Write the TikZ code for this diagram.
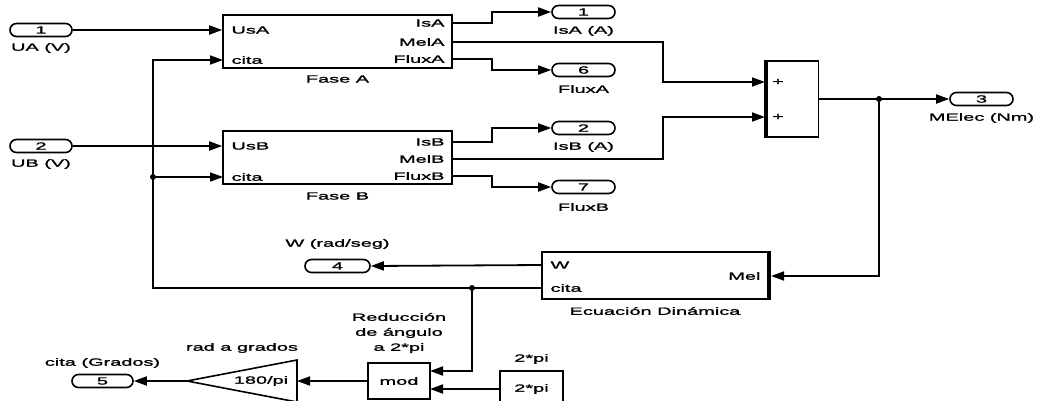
\documentclass[tikz,border=0pt]{standalone}
\usepackage{fontspec}
\setmainfont{Liberation Sans}[FakeStretch=1.9,FakeBold=1.6]
\usetikzlibrary{arrows.meta}

\begin{document}
\begin{tikzpicture}[x=1pt,y=-1pt,
  font=\fontsize{10.5}{15}\selectfont,
  blk/.style={draw,line width=1.6pt,inner sep=0pt},
  port/.style={draw,line width=1.6pt,rounded corners=6.5pt,
    minimum width=62pt,minimum height=13pt,inner sep=0pt},
  sig/.style={line width=1.8pt,-{Triangle[length=13pt,width=9pt]}},
  dot/.style={circle,fill,inner sep=0pt,minimum size=6pt}]
  \useasboundingbox (0,0) rectangle (1039,400);
  \clip (0,0) rectangle (1039,400);
  % inports
  \node[port] (in1) at (41,30) {1};
  \node (lin1) at (41,48) {UA (V)};
  \node[port] (in2) at (41,146) {2};
  \node (lin2) at (41,164) {UB (V)};
  % phase blocks
  \node[blk,minimum width=229pt,minimum height=53pt] (faseA) at (337.5,41.5) {};
  \node (lfaseA) at (337.5,79) {Fase A};
  \node[anchor=west] (pA1) at (228,30) {UsA};
  \node[anchor=west] (pA2) at (228,60) {cita};
  \node[anchor=east] (pA3) at (448,23) {IsA};
  \node[anchor=east] (pA4) at (448,42) {MelA};
  \node[anchor=east] (pA5) at (448,59) {FluxA};
  \node[blk,minimum width=229pt,minimum height=53pt] (faseB) at (337.5,157.5) {};
  \node (lfaseB) at (337.5,196) {Fase B};
  \node[anchor=west] (pB1) at (228,146) {UsB};
  \node[anchor=west] (pB2) at (228,177) {cita};
  \node[anchor=east] (pB3) at (448,142) {IsB};
  \node[anchor=east] (pB4) at (448,159) {MelB};
  \node[anchor=east] (pB5) at (448,176) {FluxB};
  \coordinate (faseA-cita) at (223,60);
  \coordinate (faseB-cita) at (223,177);
  \coordinate (faseA-isa) at (452,23);
  \coordinate (faseA-mela) at (452,42);
  \coordinate (faseA-fluxa) at (452,59);
  \coordinate (faseB-isb) at (452,142);
  \coordinate (faseB-melb) at (452,159);
  \coordinate (faseB-fluxb) at (452,176);
  % outports
  \node[port,minimum width=63pt] (out1) at (583.5,12) {1};
  \node (lout1) at (583.5,31) {IsA (A)};
  \node[port,minimum width=63pt] (out6) at (583.5,70) {6};
  \node (lout6) at (583.5,89) {FluxA};
  \node[port,minimum width=63pt] (out2) at (583.5,128) {2};
  \node (lout2) at (583.5,147) {IsB (A)};
  \node[port,minimum width=63pt] (out7) at (583.5,187) {7};
  \node (lout7) at (583.5,207) {FluxB};
  % sum
  \node[blk,minimum width=52pt,minimum height=76pt] (sum) at (792.5,99) {};
  \draw[line width=4pt] (sum.north west) -- (sum.south west);
  \node (plus1) at (778,82) {+};
  \node (plus2) at (778,117) {+};
  \coordinate (sum-in1) at (765,82);
  \coordinate (sum-in2) at (765,117);
  \node[port,minimum width=63pt] (out3) at (981.5,99) {3};
  \node (lout3) at (981.5,118) {MElec (Nm)};
  \node[dot] (j1) at (879,99) {};
  % dynamics
  \node[blk,minimum width=226pt,minimum height=47pt] (ecu) at (655,275.5) {};
  \draw[line width=4pt] (ecu.north east) -- (ecu.south east);
  \node (lecu) at (655,311) {Ecuación Dinámica};
  \node[anchor=west] (pE1) at (547,265) {W};
  \node[anchor=west] (pE2) at (547,288) {cita};
  \node[anchor=east] (pE3) at (764,276) {Mel};
  \coordinate (ecu-w) at (542,265);
  \coordinate (ecu-cita) at (542,288);
  \coordinate (ecu-mel) at (771,276);
  \node[port,minimum width=65pt] (out4) at (337.5,266) {4};
  \node (lout4) at (337.5,244) {W (rad/seg)};
  \coordinate (bus) at (153,288);
  \node[dot] (j2) at (472,288) {};
  \node[dot] (j3) at (153,177) {};
  % angle reduction
  \node[blk,minimum width=62pt,minimum height=36pt] (mod) at (399,381) {mod};
  \node[align=center] (lmod) at (399,333) {Reducción\\de ángulo\\a 2*pi};
  \coordinate (mod-in1) at (430,371);
  \coordinate (mod-in2) at (430,389);
  \node[blk,minimum width=63pt,minimum height=36pt] (const) at (531.5,389) {2*pi};
  \node (lconst) at (531.5,359) {2*pi};
  \draw[line width=1.6pt] (297,360) -- (187,381) -- (297,402) -- cycle;
  \coordinate (gain-in) at (297,381);
  \coordinate (gain-out) at (187,381);
  \node (gaintxt) at (261,381) {180/pi};
  \node (lgain) at (242,348) {rad a grados};
  \node[port,minimum width=61pt] (out5) at (102.5,381) {5};
  \node (lout5) at (102.5,363) {cita (Grados)};
  % signals
  \draw[sig] (in1.east) -- (in1.east -| faseA.west);
  \draw[sig] (in2.east) -- (in2.east -| faseB.west);
  \draw[sig] (faseA-isa) -- ++(40,0) |- (out1.west);
  \draw[sig] (faseA-fluxa) -- ++(40,0) |- (out6.west);
  \draw[sig] (faseB-isb) -- ++(40,0) |- (out2.west);
  \draw[sig] (faseB-fluxb) -- ++(40,0) |- (out7.west);
  \draw[sig] (faseA-mela) -- ++(211,0) |- (sum-in1);
  \draw[sig] (faseB-melb) -- ++(211,0) |- (sum-in2);
  \draw[sig] (sum.east) -- (out3.west);
  \draw[sig] (j1) |- (ecu-mel);
  \draw[sig] (ecu-w) -- (out4.east);
  \draw[sig] (ecu-cita) -- (bus) |- (faseA-cita);
  \draw[sig] (j3) -- (faseB-cita);
  \draw[sig] (j2) |- (mod-in1);
  \draw[sig] (const.west) -- (mod-in2);
  \draw[sig] (mod.west) -- (gain-in);
  \draw[sig] (gain-out) -- (out5.east);
\end{tikzpicture}
\end{document}
